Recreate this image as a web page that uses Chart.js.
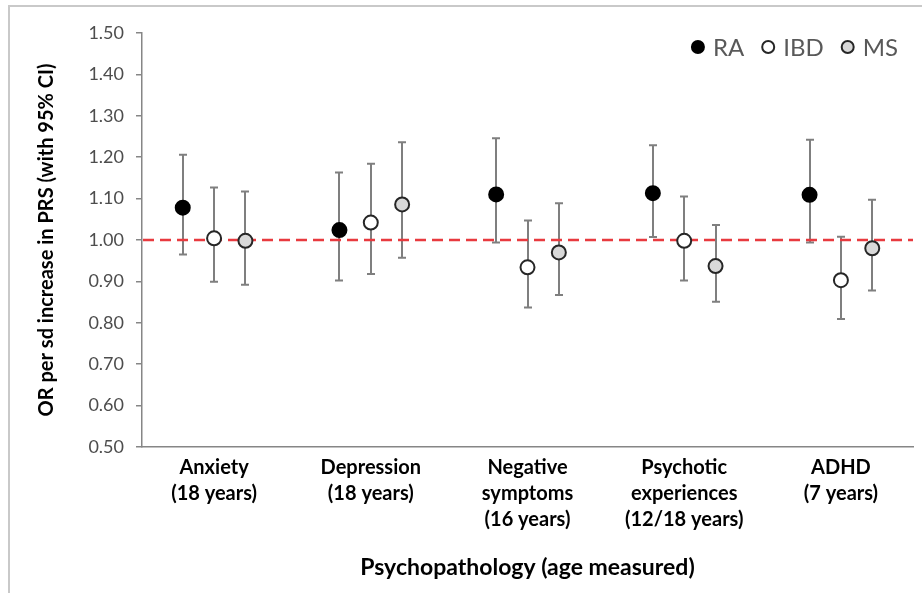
<!DOCTYPE html>
<html>
<head>
<meta charset="utf-8">
<script src="https://cdn.jsdelivr.net/npm/chart.js@4.4.1/dist/chart.umd.min.js"></script>
<style>
  html, body { margin: 0; padding: 0; background: #ffffff; }
  #wrap { width: 922px; height: 593px; position: relative; }
</style>
</head>
<body>
<div id="wrap"><canvas id="chart" width="922" height="593"></canvas></div>
<script>
// Outcome categories (x axis labels, one line per array entry)
const categories = [
  ['Anxiety', '(18 years)'],
  ['Depression', '(18 years)'],
  ['Negative', 'symptoms', '(16 years)'],
  ['Psychotic', 'experiences', '(12/18 years)'],
  ['ADHD', '(7 years)']
];

// Odds ratios with 95% confidence limits, per PRS
const raOR  = [1.078, 1.024, 1.110, 1.113, 1.109];
const raLo  = [0.965, 0.902, 0.994, 1.007, 0.994];
const raHi  = [1.206, 1.163, 1.246, 1.229, 1.242];

const ibdOR = [1.004, 1.042, 0.934, 0.998, 0.903];
const ibdLo = [0.899, 0.918, 0.837, 0.902, 0.809];
const ibdHi = [1.127, 1.184, 1.047, 1.105, 1.008];

const msOR  = [0.998, 1.086, 0.970, 0.937, 0.980];
const msLo  = [0.892, 0.957, 0.867, 0.851, 0.878];
const msHi  = [1.117, 1.236, 1.089, 1.036, 1.097];

// Reference line (OR = 1)
const nullOR = 1.0;

// y axis range
const yMin = 0.5, yMax = 1.5, yStep = 0.1;

const FONT = 'Lato, "Open Sans", sans-serif';

function series(label, or, lo, hi, shift, fill, border) {
  return {
    label: label,
    data: or.map((v, i) => ({ x: i + shift, y: v, lo: lo[i], hi: hi[i] })),
    pointRadius: 7,
    pointHoverRadius: 7,
    pointBackgroundColor: fill,
    pointBorderColor: border,
    pointBorderWidth: 2,
    backgroundColor: fill,
    borderColor: border,
    borderWidth: 2,
    showLine: false
  };
}

// Background and outer frame
const framePlugin = {
  id: 'frame',
  beforeDraw(chart) {
    const ctx = chart.ctx;
    ctx.save();
    ctx.fillStyle = '#ffffff';
    ctx.fillRect(0, 0, chart.width, chart.height);
    ctx.strokeStyle = '#c9c9c9';
    ctx.lineWidth = 2;
    ctx.beginPath();
    ctx.moveTo(9, chart.height + 2);
    ctx.lineTo(9, 6);
    ctx.lineTo(chart.width + 2, 6);
    ctx.stroke();
    ctx.restore();
  }
};

// Confidence interval whiskers and the dashed OR = 1 line
const intervalPlugin = {
  id: 'intervals',
  beforeDatasetsDraw(chart) {
    const ctx = chart.ctx;
    const xs = chart.scales.x, ys = chart.scales.y;
    const area = chart.chartArea;
    ctx.save();
    ctx.strokeStyle = '#7f7f7f';
    ctx.lineWidth = 2;
    chart.data.datasets.forEach(ds => {
      ds.data.forEach(p => {
        const px = Math.round(xs.getPixelForValue(p.x));
        const top = ys.getPixelForValue(p.hi);
        const bot = ys.getPixelForValue(p.lo);
        ctx.beginPath();
        ctx.moveTo(px, top); ctx.lineTo(px, bot);
        ctx.moveTo(px - 4, top); ctx.lineTo(px + 4, top);
        ctx.moveTo(px - 4, bot); ctx.lineTo(px + 4, bot);
        ctx.stroke();
      });
    });
    const y1 = ys.getPixelForValue(nullOR);
    ctx.strokeStyle = '#e83a3f';
    ctx.lineWidth = 2.5;
    ctx.setLineDash([11, 6]);
    ctx.beginPath();
    ctx.moveTo(area.left + 1, y1);
    ctx.lineTo(area.right, y1);
    ctx.stroke();
    ctx.restore();
  }
};

// Horizontal legend floating in the top-right corner of the plot
const floatingLegend = {
  id: 'floatingLegend',
  afterDatasetsDraw(chart, args, opts) {
    const ctx = chart.ctx;
    const area = chart.chartArea;
    ctx.save();
    ctx.font = opts.fontSize + 'px ' + FONT;
    ctx.textBaseline = 'middle';
    ctx.textAlign = 'left';
    const items = chart.data.datasets.map(ds => ({
      text: ds.label,
      fill: ds.pointBackgroundColor,
      border: ds.pointBorderColor,
      w: ctx.measureText(ds.label).width
    }));
    const r = opts.markerRadius, gapText = opts.gapText, gapItem = opts.gapItem;
    let total = 0;
    items.forEach((it, i) => {
      total += 2 * r + gapText + it.w + (i < items.length - 1 ? gapItem : 0);
    });
    let x = area.right - opts.rightInset - total;
    const y = area.top + opts.topInset;
    items.forEach(it => {
      ctx.beginPath();
      ctx.arc(x + r, y, r, 0, Math.PI * 2);
      ctx.fillStyle = it.fill;
      ctx.fill();
      ctx.lineWidth = 2;
      ctx.strokeStyle = it.border;
      ctx.stroke();
      x += 2 * r + gapText;
      ctx.fillStyle = opts.color;
      ctx.fillText(it.text, x, y + 1);
      x += it.w + gapItem;
    });
    ctx.restore();
  }
};

function build() {
  new Chart(document.getElementById('chart'), {
    type: 'scatter',
    data: {
      datasets: [
        series('RA',  raOR,  raLo,  raHi,  -0.2, '#000000', '#000000'),
        series('IBD', ibdOR, ibdLo, ibdHi,  0.0, '#ffffff', '#262626'),
        series('MS',  msOR,  msLo,  msHi,   0.2, '#d9d9d9', '#262626')
      ]
    },
    options: {
      responsive: false,
      animation: false,
      layout: { padding: { top: 33, right: 0, bottom: 0, left: 0 } },
      plugins: {
        tooltip: { enabled: false },
        legend: { display: false },
        floatingLegend: {
          fontSize: 24,
          color: '#595959',
          markerRadius: 6,
          gapText: 9,
          gapItem: 18,
          rightInset: 15,
          topInset: 14
        }
      },
      scales: {
        x: {
          type: 'linear',
          min: -0.46,
          max: 4.46,
          afterFit(scale) { scale.height = 146; },
          afterBuildTicks(scale) {
            scale.ticks = categories.map((c, i) => ({ value: i }));
          },
          ticks: {
            autoSkip: false,
            maxRotation: 0,
            padding: -1,
            color: '#000000',
            font: { family: FONT, size: 20, weight: 'bold', lineHeight: 1.32 },
            callback: (v) => categories[v]
          },
          grid: { display: false },
          border: { display: true, color: '#868686', width: 1.5 },
          title: {
            display: true,
            text: 'Psychopathology (age measured)',
            color: '#000000',
            font: { family: FONT, size: 23, weight: 'bold', lineHeight: 1.2 },
            padding: { top: 0, bottom: 12 }
          }
        },
        y: {
          min: yMin,
          max: yMax,
          afterFit(scale) { scale.width = 142; },
          ticks: {
            stepSize: yStep,
            padding: 12,
            color: '#4d4d4d',
            font: { family: FONT, size: 18 },
            callback: (v) => Number(v).toFixed(2)
          },
          grid: {
            drawOnChartArea: false,
            drawTicks: true,
            tickLength: 6,
            color: '#868686',
            lineWidth: 1.5
          },
          border: { display: true, color: '#868686', width: 1.5 },
          title: {
            display: true,
            text: 'OR per sd increase in PRS (with 95% CI)',
            color: '#000000',
            font: { family: FONT, size: 20, weight: 'bold', lineHeight: 1.2 },
            padding: { top: 35, bottom: 0 }
          }
        }
      }
    },
    plugins: [framePlugin, intervalPlugin, floatingLegend]
  });
}

Promise.all([
  document.fonts.load('bold 20px Lato'),
  document.fonts.load('18px Lato')
]).then(build, build);
</script>
</body>
</html>
